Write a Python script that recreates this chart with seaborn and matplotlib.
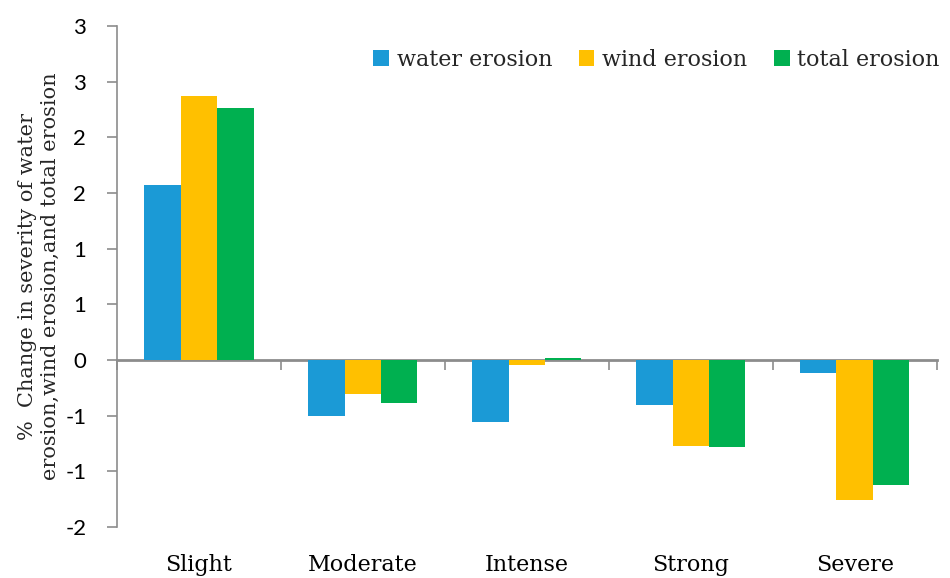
import numpy as np
import pandas as pd
import seaborn as sns
import matplotlib
matplotlib.use("Agg")
import matplotlib.pyplot as plt
from matplotlib.ticker import FuncFormatter, MultipleLocator

# data
categories = ["Slight", "Moderate", "Intense", "Strong", "Severe"]
water = [1.57, -0.505, -0.555, -0.40, -0.115]
wind = [2.37, -0.30, -0.04, -0.77, -1.255]
total = [2.26, -0.385, 0.015, -0.78, -1.12]
series = ["water erosion", "wind erosion", "total erosion"]
colors = ["#1B9AD6", "#FFC000", "#00B050"]

df = pd.DataFrame({
    "category": categories * 3,
    "value": water + wind + total,
    "type": [series[0]] * 5 + [series[1]] * 5 + [series[2]] * 5,
})

sns.set_style("white")
serif = ["DejaVu Serif"]
sans = "Lato"

fig = plt.figure(figsize=(9.5, 5.78), dpi=100)
ax = fig.add_axes([0.123, 0.088, 0.863, 0.867])

sns.barplot(data=df, x="category", y="value", hue="type", palette=colors,
            width=0.667, saturation=1, errorbar=None, ax=ax, linewidth=0)

ymin, ymax = -1.5, 3
ax.set_ylim(ymin, ymax)
ax.set_xlim(-0.5, len(categories) - 0.5)
ax.yaxis.set_major_locator(MultipleLocator(0.5))
# excel-style whole number labels (rounded half away from zero)
ax.yaxis.set_major_formatter(FuncFormatter(
    lambda v, p: "%d" % int(np.sign(v) * np.floor(abs(v) + 0.5))))

for s in ["top", "right", "bottom"]:
    ax.spines[s].set_visible(False)
ax.spines["left"].set_color("#8c8c8c")
ax.spines["left"].set_linewidth(1.2)
ax.tick_params(axis="y", which="major", left=True, length=7, width=1.2,
               color="#8c8c8c", pad=15, labelsize=16, labelfontfamily=sans,
               labelcolor="black")
ax.tick_params(axis="x", length=0, pad=19, labelsize=16,
               labelfontfamily="DejaVu Serif", labelcolor="black")

# zero line with category boundary ticks
sec = ax.secondary_xaxis(-ymin / (ymax - ymin))
sec.set_xticks(np.arange(len(categories) + 1) - 0.5)
sec.tick_params(length=7, width=1.2, color="#8c8c8c", labelbottom=False,
                direction="out")
sec.spines["bottom"].set_color("#8c8c8c")
sec.spines["bottom"].set_linewidth(2)
sec.spines["bottom"].set_zorder(0)

ax.set_xlabel("")
ax.set_ylabel("%  Change in severity of water\nerosion,wind erosion,and total erosion",
              family=serif, fontsize=15, labelpad=4, linespacing=1.25)

ax.legend(loc="upper right", bbox_to_anchor=(1.028, 0.995), ncol=3,
          frameon=False, handlelength=0.7, handleheight=0.7,
          handletextpad=0.35, columnspacing=1.2,
          prop={"family": serif, "size": 16})

fig.savefig("out.png", dpi=100)
